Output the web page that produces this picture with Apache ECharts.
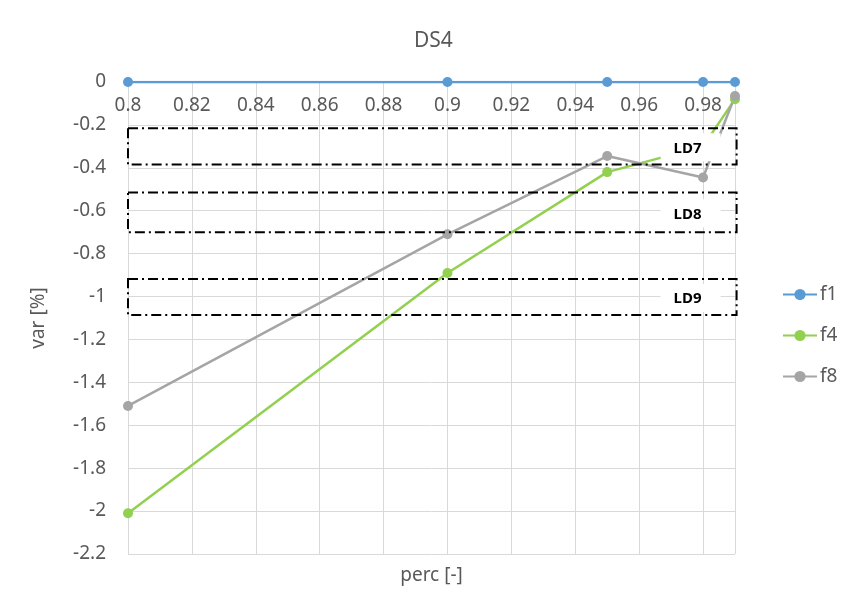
<!DOCTYPE html>
<html>
<head>
<meta charset="utf-8">
<script src="https://cdn.jsdelivr.net/npm/echarts@6/dist/echarts.min.js"></script>
<style>
  html, body { margin: 0; padding: 0; background: #ffffff; }
  #chart { width: 846px; height: 607px; }
</style>
</head>
<body>
<div id="chart"></div>
<script>
// percentile positions shared by all series
const percValues = [0.8, 0.9, 0.95, 0.98, 0.99];

// variation [%] per series
const f1Values = [0, 0, 0, 0, 0];
const f4Values = [-2.01, -0.89, -0.42, -0.30, -0.08];
const f8Values = [-1.51, -0.71, -0.345, -0.445, -0.065];

const seriesNames = ['f1', 'f4', 'f8'];

// axis ranges / tick steps
const xMin = 0.8, xMax = 0.99, xStep = 0.02;
const yMin = -2.2, yMax = 0, yStep = 0.2;

// load-level bands (value range on the y axis)
const bandNames = ['LD7', 'LD8', 'LD9'];
const bandUpper = [-0.215, -0.515, -0.918];
const bandLower = [-0.385, -0.700, -1.086];
const bandRightX = 0.9905;

const textColor = '#595959';
const gridColor = '#d9d9d9';
const fontFamily = '"Noto Sans", "Open Sans", sans-serif';

const toPairs = vals => percValues.map((x, i) => [x, vals[i]]);
const round2 = v => String(+v.toFixed(2));

const chart = echarts.init(document.getElementById('chart'), null, { renderer: 'canvas' });

const lineSeries = (name, vals, color) => ({
  name: name,
  type: 'line',
  xAxisIndex: 0,
  yAxisIndex: 0,
  data: toPairs(vals),
  symbol: 'circle',
  symbolSize: 10,
  lineStyle: { color: color, width: 2.5 },
  itemStyle: { color: color },
  emphasis: { disabled: true },
  animation: false
});

chart.setOption({
  animation: false,
  textStyle: { fontFamily: fontFamily },
  title: {
    text: 'DS4',
    left: 409,
    top: 26,
    textStyle: { color: textColor, fontSize: 21, fontWeight: 'normal', fontFamily: fontFamily }
  },
  legend: {
    orient: 'vertical',
    left: 777,
    top: 280,
    itemWidth: 34,
    itemHeight: 14,
    itemGap: 22,
    data: seriesNames,
    textStyle: { color: textColor, fontSize: 19, fontFamily: fontFamily, padding: [0, 0, 0, -2] }
  },
  grid: { left: 128, right: 111, top: 82, bottom: 53, containLabel: false },
  xAxis: [
    {
      type: 'value',
      position: 'top',
      min: xMin,
      max: xMax,
      interval: xStep,
      axisLine: { show: true, onZero: false, lineStyle: { color: gridColor } },
      axisTick: { show: false },
      splitLine: { show: true, lineStyle: { color: gridColor, width: 1 } },
      axisLabel: {
        inside: true,
        margin: 14,
        color: textColor,
        fontSize: 19,
        fontFamily: fontFamily,
        showMaxLabel: false,
        formatter: round2
      }
    },
    {
      type: 'value',
      position: 'bottom',
      min: xMin,
      max: xMax,
      interval: xStep,
      name: 'perc [-]',
      nameLocation: 'middle',
      nameGap: 12,
      nameTextStyle: { color: textColor, fontSize: 19, fontFamily: fontFamily, verticalAlign: 'top' },
      axisLine: { show: false },
      axisTick: { show: false },
      splitLine: { show: false },
      axisLabel: { show: false }
    }
  ],
  yAxis: {
    type: 'value',
    min: yMin,
    max: yMax,
    interval: yStep,
    name: 'var [%]',
    nameLocation: 'middle',
    nameGap: 80,
    nameTextStyle: { color: textColor, fontSize: 19, fontFamily: fontFamily },
    axisLine: { show: true, lineStyle: { color: gridColor } },
    axisTick: { show: false },
    splitLine: { show: true, lineStyle: { color: gridColor, width: 1 } },
    axisLabel: { color: textColor, fontSize: 19, fontFamily: fontFamily, margin: 22, formatter: round2 }
  },
  series: [
    lineSeries(seriesNames[0], f1Values, '#5B9BD5'),
    lineSeries(seriesNames[1], f4Values, '#92D050'),
    lineSeries(seriesNames[2], f8Values, '#A5A5A5')
  ]
});

// dash-dot band frames with their labels, placed through the axis scales
function drawBands() {
  const elements = [];
  bandNames.forEach((name, i) => {
    const p1 = chart.convertToPixel({ xAxisIndex: 0, yAxisIndex: 0 }, [xMin, bandUpper[i]]);
    const p2 = chart.convertToPixel({ xAxisIndex: 0, yAxisIndex: 0 }, [bandRightX, bandLower[i]]);
    const x = p1[0], y = p1[1], w = p2[0] - p1[0], h = p2[1] - p1[1];
    const cy = y + h / 2 + 1;
    const boxW = 60, boxH = 28;
    const boxX = p2[0] - 16 - boxW;
    elements.push({
      type: 'rect',
      z: 100,
      shape: { x: boxX, y: cy - boxH / 2, width: boxW, height: boxH },
      style: { fill: '#ffffff' },
      silent: true
    });
    elements.push({
      type: 'text',
      z: 101,
      x: boxX + boxW / 2 - 3,
      y: cy + 1,
      style: {
        text: name,
        fill: '#000000',
        font: 'bold 15px ' + fontFamily,
        align: 'center',
        verticalAlign: 'middle'
      },
      silent: true
    });
    elements.push({
      type: 'rect',
      z: 102,
      shape: { x: x, y: y, width: w, height: h },
      style: { fill: 'none', stroke: '#000000', lineWidth: 2, lineDash: [10, 4, 2, 4] },
      silent: true
    });
  });
  chart.setOption({ graphic: { elements: elements } });
}
drawBands();
</script>
</body>
</html>
